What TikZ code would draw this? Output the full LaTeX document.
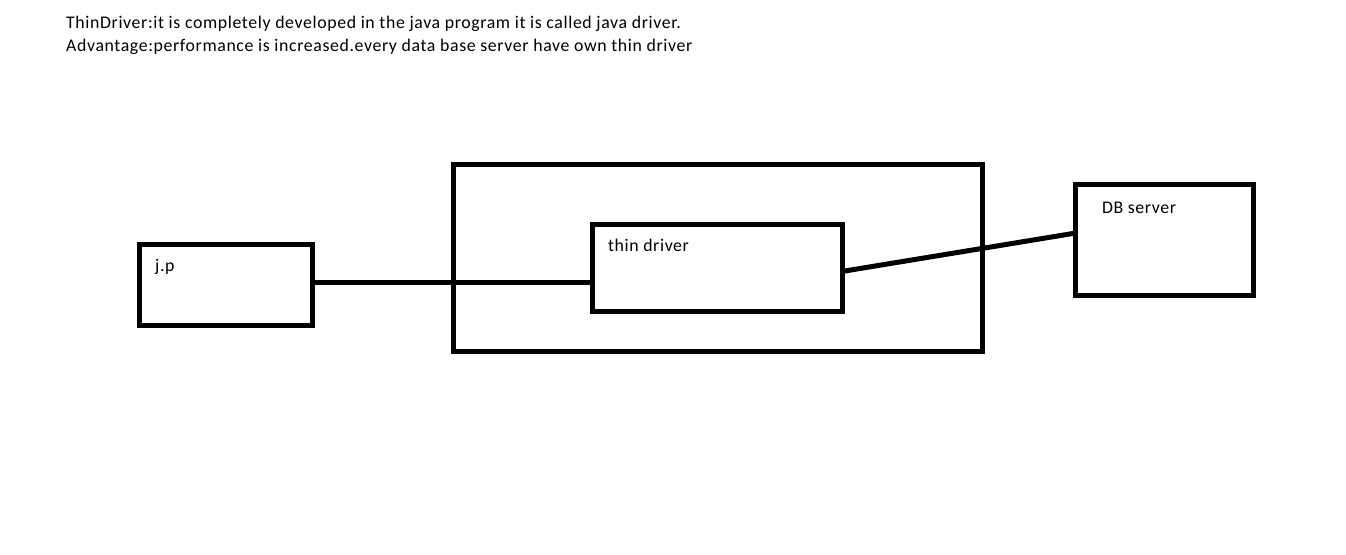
\documentclass[tikz,border=0pt]{standalone}
\usepackage{fontspec}
\setmainfont{Carlito}[LetterSpace=3.5]
\usetikzlibrary{positioning}

\begin{document}
\begin{tikzpicture}[
	x=1pt, y=-1pt,
	box/.style={
		rectangle,
		draw=black,
		line width=5pt,
		inner sep=0pt
	},
	lbl/.style={
		inner sep=0pt,
		anchor=base west,
		font=\fontsize{17.8}{23.4}\selectfont
	},
	link/.style={
		line width=5pt
	},
]

\useasboundingbox[fill=white] (0, 0) rectangle (1346, 554);

\node[lbl] (head_one) at (66, 28) {ThinDriver:it is completely developed in the java program it is called java driver.};
\node[lbl] (head_two) at ([yshift=-23.4pt]head_one.base west) {Advantage:performance is increased.every data base server have own thin driver};

\node[box, minimum width=173pt, minimum height=80.5pt] (jp) at (226, 284.75) {};
\node[box, minimum width=529pt, minimum height=186.7pt] (vm) at (717.8, 257.65) {};
\node[box, minimum width=249.6pt, minimum height=86.7pt] (thin) at (717.5, 267.65) {};
\node[box, minimum width=178.3pt, minimum height=111.4pt] (db) at (1164.15, 240) {};

\node[lbl] (jp_text) at ([xshift=18pt, yshift=-29pt]jp.north west) {j.p};
\node[lbl] (thin_text) at ([xshift=17.6pt, yshift=-29.4pt]thin.north west) {thin driver};
\node[lbl] (db_text) at ([xshift=29.3pt, yshift=-31.2pt]db.north west) {DB server};

\draw[link] ([yshift=2.75pt]jp.east) -- ([yshift=-14.35pt, xshift=3pt]thin.west);
\draw[link] ([yshift=-3.35pt]thin.east) -- ([yshift=6.7pt, xshift=1.5pt]db.west);

\end{tikzpicture}
\end{document}
